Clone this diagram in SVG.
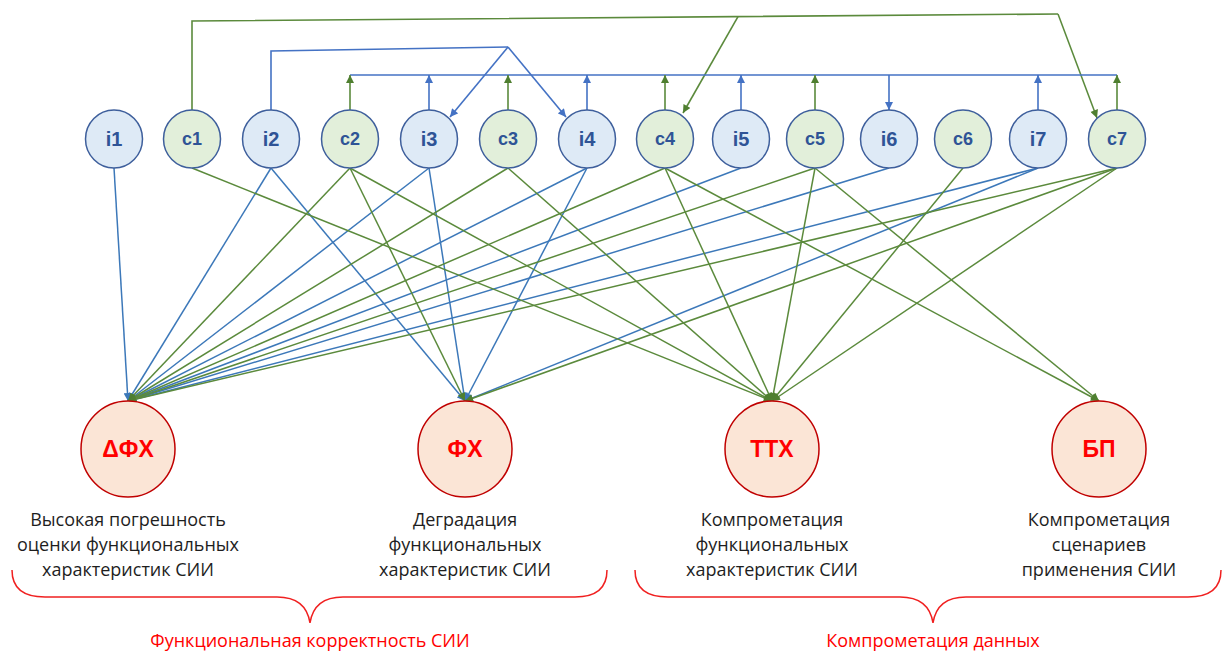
<svg xmlns="http://www.w3.org/2000/svg" width="1223" height="653" viewBox="0 0 1223 653">
<style>
.bg{fill:#ffffff}
.lb{stroke:#3C78B9;stroke-width:1.5;fill:none}
.lg{stroke:#5B8A3C;stroke-width:1.5;fill:none}
.tb{stroke:#4472C4;stroke-width:1.6;fill:none}
.tg{stroke:#5B8A3C;stroke-width:1.6;fill:none}
.ni{fill:#DEEAF6;stroke:#3E5F9C;stroke-width:1.5}
.nc{fill:#E2EFDA;stroke:#3E5F9C;stroke-width:1.5}
.nr{fill:#FBE5D6;stroke:#C00000;stroke-width:1.5}
.ti{font-family:"Liberation Sans",Arial,sans-serif;font-weight:bold;font-size:20px;fill:#2F5496;text-anchor:middle}
.tc{font-family:"Liberation Sans",Arial,sans-serif;font-weight:bold;font-size:18px;fill:#2F5496;text-anchor:middle}
.tr{font-family:"Liberation Sans",Arial,sans-serif;font-weight:bold;font-size:23px;fill:#FF0000;text-anchor:middle}
.td{font-family:"Open Sans","Liberation Sans",sans-serif;font-size:18px;fill:#1E1E1E;text-anchor:middle}
.tl{font-family:"Open Sans","Liberation Sans",sans-serif;font-size:18px;fill:#FF0000;text-anchor:middle}
.br{stroke:#F02020;stroke-width:1.5;fill:none}
</style>
<defs>
<marker id="mb" viewBox="0 0 10 10" refX="10" refY="5" markerWidth="9" markerHeight="8" markerUnits="userSpaceOnUse" orient="auto"><path d="M0,0 L10,5 L0,10 z" fill="#3C78B9"/></marker>
<marker id="mt" viewBox="0 0 10 10" refX="10" refY="5" markerWidth="9" markerHeight="8" markerUnits="userSpaceOnUse" orient="auto"><path d="M0,0 L10,5 L0,10 z" fill="#4472C4"/></marker>
<marker id="mg" viewBox="0 0 10 10" refX="10" refY="5" markerWidth="9" markerHeight="8" markerUnits="userSpaceOnUse" orient="auto"><path d="M0,0 L10,5 L0,10 z" fill="#4F7F30"/></marker>
</defs>
<rect class="bg" x="0" y="0" width="1223" height="653"/>
<g id="connectors">
<polyline class="tg" points="192,110 192,21 1058,14"/>
<line class="tg" x1="1058" y1="14" x2="1097" y2="118" marker-end="url(#mg)"/>
<line class="tg" x1="738" y1="16.6" x2="683" y2="113" marker-end="url(#mg)"/>
<polyline class="tb" points="271,110 271,51 508,47"/>
<line class="tb" x1="508" y1="47" x2="450" y2="117" marker-end="url(#mt)"/>
<line class="tb" x1="508" y1="47" x2="566" y2="117" marker-end="url(#mt)"/>
<line class="tb" x1="350" y1="75" x2="1117" y2="75"/>
<line class="tg" x1="350" y1="110" x2="350" y2="75" marker-end="url(#mg)"/>
<line class="tb" x1="429" y1="110" x2="429" y2="75" marker-end="url(#mt)"/>
<line class="tg" x1="508" y1="110" x2="508" y2="75" marker-end="url(#mg)"/>
<line class="tb" x1="587" y1="110" x2="587" y2="75" marker-end="url(#mt)"/>
<line class="tg" x1="665" y1="110" x2="665" y2="75" marker-end="url(#mg)"/>
<line class="tb" x1="741" y1="110" x2="741" y2="75" marker-end="url(#mt)"/>
<line class="tg" x1="815" y1="110" x2="815" y2="75" marker-end="url(#mg)"/>
<line class="tb" x1="889" y1="75" x2="889" y2="110" marker-end="url(#mt)"/>
<line class="tb" x1="1038" y1="110" x2="1038" y2="75" marker-end="url(#mt)"/>
<line class="tg" x1="1117" y1="110" x2="1117" y2="75" marker-end="url(#mg)"/>
<line class="lb" x1="114" y1="168" x2="128" y2="401" marker-end="url(#mb)"/>
<line class="lb" x1="271" y1="168" x2="128" y2="401" marker-end="url(#mb)"/>
<line class="lb" x1="271" y1="168" x2="465" y2="401" marker-end="url(#mb)"/>
<line class="lb" x1="429" y1="168" x2="128" y2="401" marker-end="url(#mb)"/>
<line class="lb" x1="429" y1="168" x2="465" y2="401" marker-end="url(#mb)"/>
<line class="lb" x1="587" y1="168" x2="128" y2="401" marker-end="url(#mb)"/>
<line class="lb" x1="587" y1="168" x2="465" y2="401" marker-end="url(#mb)"/>
<line class="lb" x1="741" y1="168" x2="128" y2="401" marker-end="url(#mb)"/>
<line class="lb" x1="889" y1="168" x2="128" y2="401" marker-end="url(#mb)"/>
<line class="lb" x1="1038" y1="168" x2="128" y2="401" marker-end="url(#mb)"/>
<line class="lb" x1="1038" y1="168" x2="465" y2="401" marker-end="url(#mb)"/>
<line class="lg" x1="192" y1="168" x2="772" y2="401" marker-end="url(#mg)"/>
<line class="lg" x1="350" y1="168" x2="128" y2="401" marker-end="url(#mg)"/>
<line class="lg" x1="350" y1="168" x2="465" y2="401" marker-end="url(#mg)"/>
<line class="lg" x1="350" y1="168" x2="772" y2="401" marker-end="url(#mg)"/>
<line class="lg" x1="508" y1="168" x2="128" y2="401" marker-end="url(#mg)"/>
<line class="lg" x1="508" y1="168" x2="772" y2="401" marker-end="url(#mg)"/>
<line class="lg" x1="665" y1="168" x2="128" y2="401" marker-end="url(#mg)"/>
<line class="lg" x1="665" y1="168" x2="772" y2="401" marker-end="url(#mg)"/>
<line class="lg" x1="665" y1="168" x2="1099" y2="401" marker-end="url(#mg)"/>
<line class="lg" x1="815" y1="168" x2="128" y2="401" marker-end="url(#mg)"/>
<line class="lg" x1="815" y1="168" x2="772" y2="401" marker-end="url(#mg)"/>
<line class="lg" x1="815" y1="168" x2="1099" y2="401" marker-end="url(#mg)"/>
<line class="lg" x1="963" y1="168" x2="772" y2="401" marker-end="url(#mg)"/>
<line class="lg" x1="1117" y1="168" x2="128" y2="401" marker-end="url(#mg)"/>
<line class="lg" x1="1117" y1="168" x2="465" y2="401" marker-end="url(#mg)"/>
<line class="lg" x1="1117" y1="168" x2="772" y2="401" marker-end="url(#mg)"/>
</g>
<g id="i1"><ellipse class="ni" cx="114" cy="139" rx="28.5" ry="29"/><text class="ti" x="114" y="146">i1</text></g>
<g id="c1"><ellipse class="nc" cx="192" cy="139" rx="28.5" ry="29"/><text class="tc" x="192" y="145">c1</text></g>
<g id="i2"><ellipse class="ni" cx="271" cy="139" rx="28.5" ry="29"/><text class="ti" x="271" y="146">i2</text></g>
<g id="c2"><ellipse class="nc" cx="350" cy="139" rx="28.5" ry="29"/><text class="tc" x="350" y="145">c2</text></g>
<g id="i3"><ellipse class="ni" cx="429" cy="139" rx="28.5" ry="29"/><text class="ti" x="429" y="146">i3</text></g>
<g id="c3"><ellipse class="nc" cx="508" cy="139" rx="28.5" ry="29"/><text class="tc" x="508" y="145">c3</text></g>
<g id="i4"><ellipse class="ni" cx="587" cy="139" rx="28.5" ry="29"/><text class="ti" x="587" y="146">i4</text></g>
<g id="c4"><ellipse class="nc" cx="665" cy="139" rx="28.5" ry="29"/><text class="tc" x="665" y="145">c4</text></g>
<g id="i5"><ellipse class="ni" cx="741" cy="139" rx="28.5" ry="29"/><text class="ti" x="741" y="146">i5</text></g>
<g id="c5"><ellipse class="nc" cx="815" cy="139" rx="28.5" ry="29"/><text class="tc" x="815" y="145">c5</text></g>
<g id="i6"><ellipse class="ni" cx="889" cy="139" rx="28.5" ry="29"/><text class="ti" x="889" y="146">i6</text></g>
<g id="c6"><ellipse class="nc" cx="963" cy="139" rx="28.5" ry="29"/><text class="tc" x="963" y="145">c6</text></g>
<g id="i7"><ellipse class="ni" cx="1038" cy="139" rx="28.5" ry="29"/><text class="ti" x="1038" y="146">i7</text></g>
<g id="c7"><ellipse class="nc" cx="1117" cy="139" rx="28.5" ry="29"/><text class="tc" x="1117" y="145">c7</text></g>
<g id="dFH"><ellipse class="nr" cx="128" cy="449" rx="47" ry="48"/><text class="tr" x="128" y="457">ΔФХ</text>
<text class="td" x="128" y="526">Высокая погрешность</text><text class="td" x="128" y="551">оценки функциональных</text><text class="td" x="128" y="576">характеристик СИИ</text></g>
<g id="FH"><ellipse class="nr" cx="465" cy="449" rx="47" ry="48"/><text class="tr" x="465" y="457">ФХ</text>
<text class="td" x="465" y="526">Деградация</text><text class="td" x="465" y="551">функциональных</text><text class="td" x="465" y="576">характеристик СИИ</text></g>
<g id="TTH"><ellipse class="nr" cx="772" cy="449" rx="47" ry="48"/><text class="tr" x="772" y="457">ТТХ</text>
<text class="td" x="772" y="526">Компрометация</text><text class="td" x="772" y="551">функциональных</text><text class="td" x="772" y="576">характеристик СИИ</text></g>
<g id="BP"><ellipse class="nr" cx="1099" cy="449" rx="47" ry="48"/><text class="tr" x="1099" y="457">БП</text>
<text class="td" x="1099" y="526">Компрометация</text><text class="td" x="1099" y="551">сценариев</text><text class="td" x="1099" y="576">применения СИИ</text></g>
<g id="brace-left"><path class="br" d="M12,570 Q12,597 45,597 L277,597 Q306,597 310,623 Q314,597 343,597 L575,597 Q607,597 607,570"/>
<text class="tl" x="310" y="647">Функциональная корректность СИИ</text></g>
<g id="brace-right"><path class="br" d="M635,570 Q635,597 668,597 L900,597 Q929,597 933,623 Q937,597 966,597 L1188,597 Q1221,597 1221,570"/>
<text class="tl" x="933" y="647">Компрометация данных</text></g>
</svg>
